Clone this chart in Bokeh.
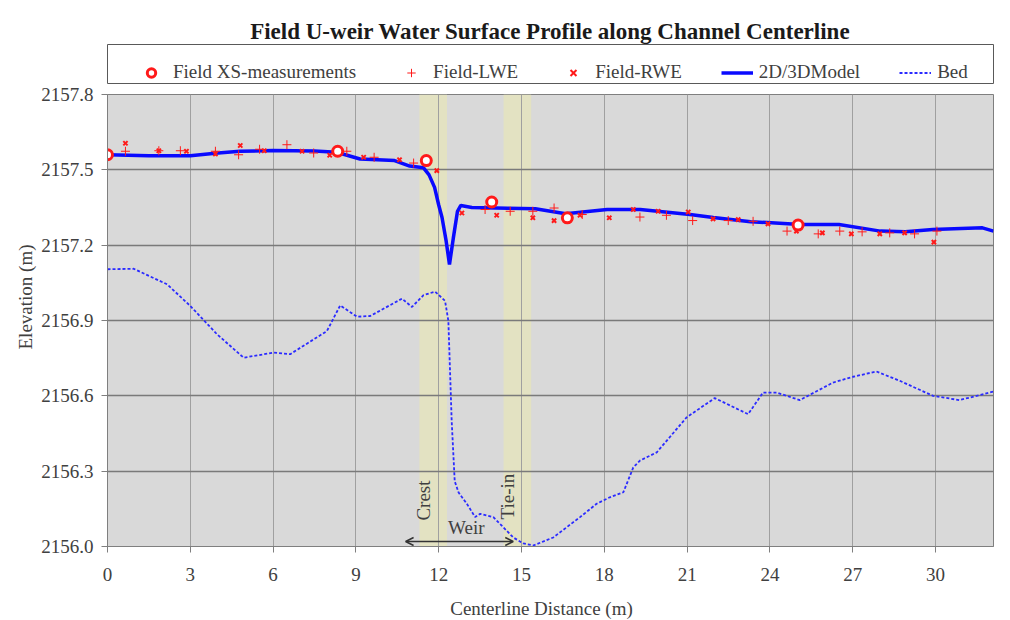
from bokeh.plotting import figure
from bokeh.layouts import column
from bokeh.models import (Range1d, FixedTicker, PrintfTickFormatter, Legend, LegendItem,
                          Label, Arrow, OpenHead, Title)
from bokeh.embed import file_html
from bokeh.resources import INLINE
import math

# ---------------- data ----------------
model_x = [0, 1.5, 3.0, 3.9, 4.8, 6.0, 7.5, 8.3, 9.15, 10.4,
           10.95, 11.45, 11.65, 11.85, 12.0, 12.12, 12.27, 12.39, 12.53, 12.68,
           12.8, 13.2, 14.5, 15.5, 16.6, 18.1, 19.3, 21.1, 21.95, 23.3,
           23.9, 25.1, 26.5, 28.0, 28.9, 29.9, 31.7, 32.1]
model_y = [2157.560, 2157.556, 2157.556, 2157.566, 2157.574, 2157.577, 2157.575, 2157.570, 2157.543, 2157.537,
           2157.515, 2157.508, 2157.480, 2157.430, 2157.360, 2157.310, 2157.216, 2157.123, 2157.229, 2157.335,
           2157.358, 2157.350, 2157.347, 2157.345, 2157.325, 2157.342, 2157.342, 2157.322, 2157.310, 2157.293,
           2157.290, 2157.282, 2157.282, 2157.256, 2157.253, 2157.262, 2157.269, 2157.256]

bed_x = [0, 0.95, 2.16, 3.0, 3.97, 4.93, 6.02, 6.62, 7.95, 8.43,
         9.04, 9.52, 10.67, 11.03, 11.45, 11.87, 12.23, 12.35, 12.47, 12.58,
         12.72, 13.02, 13.32, 13.5, 13.98, 14.7, 15.07, 15.43, 16.15, 17.12,
         17.72, 18.2, 18.69, 19.05, 19.29, 19.9, 20.98, 22.0, 23.21, 23.75,
         24.24, 25.08, 26.29, 27.01, 27.86, 28.7, 29.91, 30.87, 32.1]
bed_y = [2157.104, 2157.106, 2157.044, 2156.958, 2156.845, 2156.752, 2156.772, 2156.766, 2156.858, 2156.960,
         2156.915, 2156.918, 2156.987, 2156.954, 2157.001, 2157.015, 2156.978, 2156.898, 2156.500, 2156.260,
         2156.215, 2156.170, 2156.117, 2156.130, 2156.117, 2156.036, 2156.012, 2156.004, 2156.036, 2156.117,
         2156.170, 2156.196, 2156.216, 2156.315, 2156.342, 2156.375, 2156.514, 2156.591, 2156.527, 2156.613,
         2156.613, 2156.583, 2156.653, 2156.676, 2156.697, 2156.660, 2156.600, 2156.583, 2156.617]

xs_x = [0, 8.34, 11.55, 13.92, 16.66, 25.02]
xs_y = [2157.560, 2157.574, 2157.537, 2157.372, 2157.309, 2157.280]

lwe_x = [0.65, 1.86, 2.64, 3.91, 4.75, 5.51, 6.5, 7.47, 8.67, 9.66,
         11.09, 13.68, 14.59, 15.41, 16.18, 17.2, 19.29, 20.25, 21.2, 22.49,
         23.39, 24.62, 25.75, 26.53, 27.34, 28.34, 29.24, 30.05]
lwe_y = [2157.574, 2157.576, 2157.576, 2157.574, 2157.560, 2157.582, 2157.600, 2157.567, 2157.574, 2157.550,
         2157.527, 2157.342, 2157.335, 2157.335, 2157.348, 2157.322, 2157.312, 2157.319, 2157.298, 2157.298,
         2157.295, 2157.256, 2157.245, 2157.256, 2157.253, 2157.249, 2157.245, 2157.256]

rwe_x = [0.65, 1.86, 2.86, 3.91, 4.81, 5.68, 7.05, 8.05, 9.28, 10.58,
         11.93, 12.84, 14.1, 15.41, 16.18, 17.12, 18.18, 19.05, 19.95, 21.04,
         21.94, 22.85, 23.93, 24.96, 25.9, 26.95, 27.98, 28.88, 29.94]
rwe_y = [2157.606, 2157.576, 2157.574, 2157.563, 2157.597, 2157.576, 2157.574, 2157.558, 2157.550, 2157.540,
         2157.497, 2157.328, 2157.319, 2157.309, 2157.298, 2157.319, 2157.309, 2157.342, 2157.335, 2157.332,
         2157.305, 2157.302, 2157.285, 2157.256, 2157.249, 2157.245, 2157.245, 2157.249, 2157.212]

band_left = [11.3, 14.35]
band_right = [12.3, 15.35]
weir_arrow_x = [10.8, 14.7]
weir_arrow_y = 2156.02

x_ticks = [0, 3, 6, 9, 12, 15, 18, 21, 24, 27, 30]
y_ticks = [2156.0, 2156.3, 2156.6, 2156.9, 2157.2, 2157.5, 2157.8]

series_names = ["Field XS-measurements", "Field-LWE", "Field-RWE", "2D/3DModel", "Bed"]
title_text = "Field U-weir Water Surface Profile along Channel Centerline"
x_title = "Centerline Distance (m)"
y_title = "Elevation (m)"

FONT = "Liberation Serif"
TXT = "#404040"
RED = "#ff1a1a"
BLUE = "#0a0aff"
BED_BLUE = "#2b2bff"


def draw_series(fig):
    """Draw the five series on a figure; returns renderers in legend order."""
    r_bed = fig.line(bed_x, bed_y, line_color=BED_BLUE, line_width=1.8, line_dash="3 2")
    r_model = fig.line(model_x, model_y, line_color=BLUE, line_width=3.5)
    r_lwe = fig.scatter(lwe_x, lwe_y, marker="cross", size=9, line_color=RED, line_width=1)
    r_rwe = fig.scatter(rwe_x, rwe_y, marker="x", size=6, line_color=RED, line_width=2)
    r_xs = fig.scatter(xs_x, xs_y, marker="circle", size=10, line_color=RED,
                       line_width=3, fill_color="white")
    return [r_xs, r_lwe, r_rwe, r_model, r_bed]


def blank(height, top, bottom, y_end):
    f = figure(width=1010, height=height, output_backend="svg", toolbar_location=None,
               x_range=Range1d(107, 993), y_range=Range1d(0, y_end),
               x_axis_type=None, y_axis_type=None,
               min_border_left=107, min_border_right=17,
               min_border_top=top, min_border_bottom=bottom)
    f.background_fill_color = "white"
    f.border_fill_color = "white"
    f.grid.visible = False
    return f


# ---------------- header: title + legend box ----------------
head = blank(84, 44, 1, 39)
head.outline_line_color = "#595959"
head.outline_line_width = 1
head.title = Title(text=title_text, text_font=FONT, text_font_size="23px",
                   text_font_style="bold", text_color="#1a1a1a", align="center",
                   vertical_align="bottom", standoff=2)

# the series drawn here fall outside the header's ranges; they only feed the legend
head_renderers = draw_series(head)
legend = Legend(items=[LegendItem(label=n, renderers=[r]) for n, r in
                       zip(series_names, head_renderers)],
                orientation="horizontal", location=(28, 0))
legend.label_text_font = FONT
legend.label_text_font_size = "19px"
legend.label_text_color = TXT
legend.glyph_width = 32
legend.glyph_height = 21
legend.label_height = 21
legend.label_standoff = 6
legend.spacing = 39
legend.padding = 9
legend.margin = 0
legend.border_line_color = None
legend.background_fill_alpha = 0
head.add_layout(legend)

# ---------------- main plot ----------------
p = figure(width=1010, height=510, output_backend="svg", toolbar_location=None,
           x_range=Range1d(0, 32.1), y_range=Range1d(2156.0, 2157.8),
           min_border_left=107, min_border_right=17, min_border_top=10, min_border_bottom=48)
p.background_fill_color = "#d9d9d9"
p.border_fill_color = "white"
p.outline_line_color = "#7f7f7f"
p.outline_line_width = 1

p.xgrid.grid_line_color = "#a0a0a0"
p.xgrid.grid_line_width = 1
p.ygrid.grid_line_color = "#7a7a7a"
p.ygrid.grid_line_width = 1.5

for ax in (p.xaxis[0], p.yaxis[0]):
    ax.axis_line_color = "#7f7f7f"
    ax.major_tick_line_color = "#7f7f7f"
    ax.major_tick_out = 6
    ax.major_tick_in = 0
    ax.minor_tick_out = 0
    ax.minor_tick_in = 0
    ax.major_label_text_font = FONT
    ax.major_label_text_font_size = "19px"
    ax.major_label_text_color = TXT

p.xaxis.ticker = FixedTicker(ticks=x_ticks)
p.yaxis.ticker = FixedTicker(ticks=y_ticks)
p.yaxis.formatter = PrintfTickFormatter(format="%.1f")
p.xaxis.major_label_standoff = 15
p.yaxis.major_label_standoff = 8

# yellow bands (beneath the grid)
p.quad(left=band_left, right=band_right, bottom=2156.0, top=2157.8,
       fill_color="#e3e2c2", line_color=None, level="image")

draw_series(p)

# weir annotations
p.add_layout(Arrow(start=OpenHead(size=8, line_color="#333333", line_width=1.5),
                   end=OpenHead(size=8, line_color="#333333", line_width=1.5),
                   x_start=weir_arrow_x[0], y_start=weir_arrow_y,
                   x_end=weir_arrow_x[1], y_end=weir_arrow_y,
                   line_color="#333333", line_width=1.5))
p.add_layout(Label(x=13.0, y=2156.075, text="Weir", text_font=FONT,
                   text_font_size="19px", text_color=TXT, text_align="center",
                   text_baseline="middle"))
p.add_layout(Label(x=11.44, y=2156.183, text="Crest", angle=math.pi / 2, text_font=FONT,
                   text_font_size="19px", text_color=TXT, text_align="center",
                   text_baseline="middle"))
p.add_layout(Label(x=14.51, y=2156.199, text="Tie-in", angle=math.pi / 2, text_font=FONT,
                   text_font_size="19px", text_color=TXT, text_align="center",
                   text_baseline="middle"))

# y-axis title
p.add_layout(Title(text=y_title, text_font=FONT, text_font_size="19px",
                   text_font_style="normal", text_color=TXT, align="left", offset=197,
                   vertical_align="middle", standoff=4), "left")

# ---------------- footer: x-axis title ----------------
foot = blank(26, 0, 0, 26)
foot.outline_line_color = None
foot.add_layout(Label(x=541, y=12, text=x_title, text_font=FONT, text_font_size="19px",
                      text_color=TXT, text_align="center", text_baseline="middle"))

open("out.html", "w").write(file_html(column(head, p, foot, spacing=0), INLINE))
